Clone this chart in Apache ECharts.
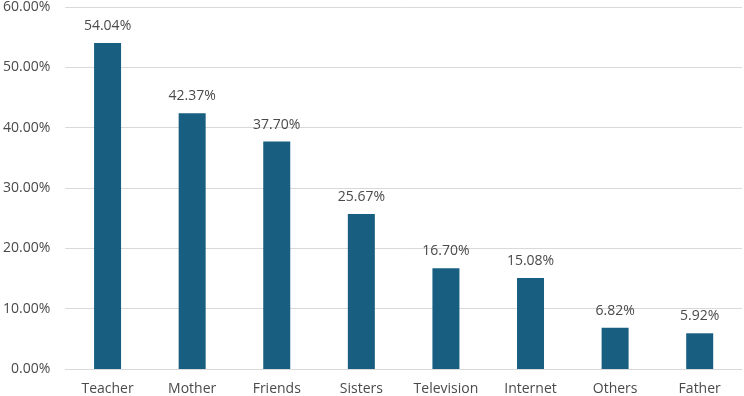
<!DOCTYPE html>
<html>
<head>
<meta charset="utf-8">
<script src="https://cdn.jsdelivr.net/npm/echarts@6/dist/echarts.min.js"></script>
<style>
html, body { margin: 0; padding: 0; background: #fff; }
#chart { width: 744px; height: 396px; }
</style>
</head>
<body>
<div id="chart"></div>
<script>
var categories = ['Teacher', 'Mother', 'Friends', 'Sisters', 'Television', 'Internet', 'Others', 'Father'];
var values = [54.04, 42.37, 37.70, 25.67, 16.70, 15.08, 6.82, 5.92];

var textColor = '#4a4a4a';
var fontFamily = 'Open Sans, sans-serif';

var myChart = echarts.init(document.getElementById('chart'));
var option = {
    backgroundColor: '#fff',
    animation: false,
    grid: {
        left: 62,
        right: 2,
        top: 4,
        bottom: 27,
        containLabel: false
    },
    xAxis: {
        type: 'category',
        data: categories,
        axisLine: { lineStyle: { color: '#d9d9d9', width: 1 } },
        axisTick: { show: false },
        axisLabel: {
            color: textColor,
            fontSize: 14,
            fontFamily: fontFamily,
            margin: 13
        }
    },
    yAxis: {
        type: 'value',
        min: 0,
        max: 60,
        interval: 10,
        axisLine: { show: false },
        axisTick: { show: false },
        splitLine: { lineStyle: { color: '#d9d9d9', width: 1 } },
        axisLabel: {
            color: textColor,
            fontSize: 14,
            fontFamily: fontFamily,
            margin: 15,
            formatter: function (value) {
                return value.toFixed(2) + '%';
            }
        }
    },
    series: [{
        type: 'bar',
        data: values,
        barWidth: 27,
        itemStyle: { color: '#175e80' },
        label: {
            show: true,
            position: 'top',
            distance: 10,
            color: textColor,
            fontSize: 14,
            fontFamily: fontFamily,
            formatter: function (p) {
                return p.value.toFixed(2) + '%';
            }
        }
    }]
};
myChart.setOption(option);
</script>
</body>
</html>
